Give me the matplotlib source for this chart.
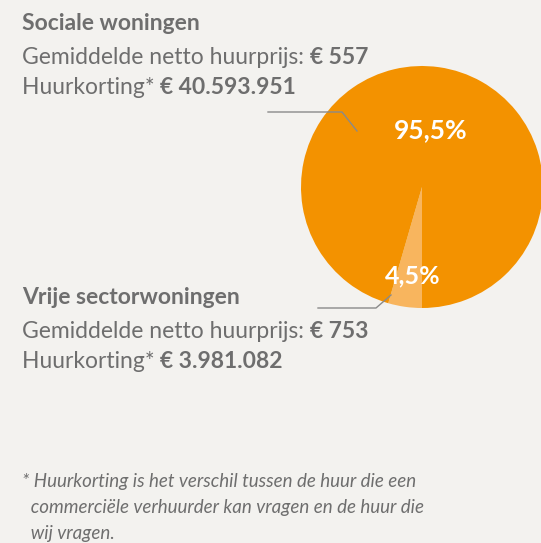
import matplotlib.pyplot as plt

# shares of the rent discount
shares = [4.5, 95.5]
share_labels = ['4,5%', '95,5%']
colors = ['#F8B55E', '#F39200']

groups = ['Sociale woningen', 'Vrije sectorwoningen']
avg_rent = ['€ 557', '€ 753']
discount = ['€ 40.593.951', '€ 3.981.082']

footnote = ['* Huurkorting is het verschil tussen de huur die een',
            '  commerciële verhuurder kan vragen en de huur die',
            '  wij vragen.']

bg = '#F3F2EF'
grey = '#6E6E6E'
plt.rcParams['font.family'] = ['Lato', 'DejaVu Sans']

fig = plt.figure(figsize=(5.41, 5.43), dpi=100, facecolor=bg)
ax = fig.add_axes([0, 0, 1, 1])
ax.set_facecolor(bg)

# pie (y axis inverted, so counterclock in data = clockwise on screen)
ax.pie(shares, colors=colors, startangle=90, counterclock=True,
       center=(422, 187), radius=121, frame=True,
       wedgeprops=dict(linewidth=0))
ax.set_xlim(0, 541)
ax.set_ylim(543, 0)
ax.set_aspect('equal')
ax.axis('off')

ax.text(431, 130, share_labels[1], color='white', fontsize=19, fontweight='bold',
        ha='center', va='center')
ax.text(413, 276, share_labels[0], color='white', fontsize=18, fontweight='bold',
        ha='center', va='center')

# leader lines
ax.plot([268, 342, 357], [112, 112, 131], color='#8A8A8A', lw=1)
ax.plot([318, 376, 391], [308, 308, 295], color='#8A8A8A', lw=1)

# group text blocks
fs = 16.5
for i, y0 in enumerate([24, 298]):
    ax.text(22, y0, groups[i], color=grey, fontsize=fs, fontweight='bold', va='center')
    t = ax.text(22, y0 + 33, 'Gemiddelde netto huurprijs: ', color=grey, fontsize=fs, va='center')
    ax.annotate(avg_rent[i], xycoords=t, xy=(1, 0.5), va='center', color=grey,
                fontsize=fs, fontweight='bold')
    t2 = ax.text(22, y0 + 64, 'Huurkorting* ', color=grey, fontsize=fs, va='center')
    ax.annotate(discount[i], xycoords=t2, xy=(1, 0.5), va='center', color=grey,
                fontsize=fs, fontweight='bold')

for i, line in enumerate(footnote):
    ax.text(22, 481 + i * 26, line, color=grey, fontsize=13.5, style='italic', va='center')

fig.savefig('out.png', dpi=100, facecolor=bg)
